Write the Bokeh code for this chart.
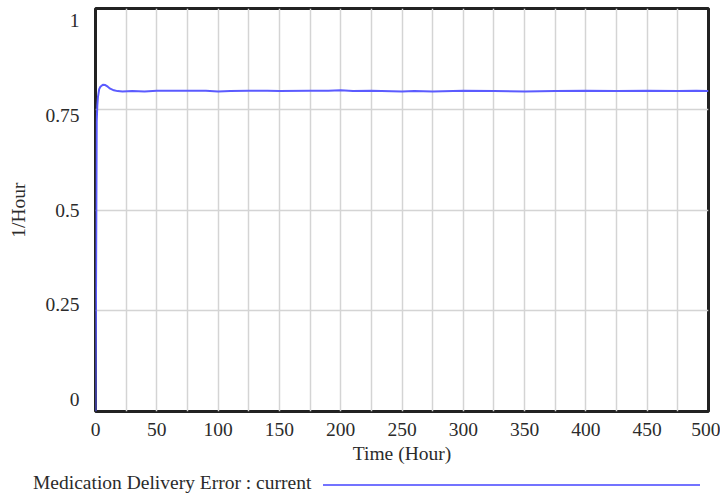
from bokeh.plotting import figure
from bokeh.models import Range1d, FixedTicker, LinearAxis, Div
from bokeh.layouts import column
from bokeh.embed import file_html
from bokeh.resources import INLINE

# ---- data ----
time_hours = [0, 0.5, 1, 1.5, 2, 3, 4, 6, 8, 10, 12, 15, 18, 22, 30, 40, 50, 60,
              75, 90, 100, 110, 125, 140, 150, 175, 190, 200, 210, 225, 250, 260,
              275, 300, 325, 350, 375, 400, 425, 450, 475, 490, 500]
error_current = [0, 0.35, 0.72, 0.76, 0.78, 0.80, 0.806, 0.811, 0.81, 0.806, 0.801,
                 0.797, 0.795, 0.794, 0.795, 0.794, 0.796, 0.796, 0.796, 0.796,
                 0.794, 0.795, 0.796, 0.796, 0.795, 0.796, 0.796, 0.797, 0.795,
                 0.796, 0.794, 0.795, 0.794, 0.796, 0.795, 0.794, 0.795, 0.796,
                 0.795, 0.796, 0.795, 0.796, 0.795]
x_label_ticks = [0, 50, 100, 150, 200, 250, 300, 350, 400, 450, 500]
x_grid_ticks = list(range(0, 525, 25))
y_ticks = [0, 0.25, 0.5, 0.75, 1]
series_name = "Medication Delivery Error : current"

FONT = "Liberation Serif"
FS = "19.5px"
TXT = "#2b2b2b"
LINE = "#5b5bff"

p = figure(width=720, height=468, output_backend="svg", toolbar_location=None,
           x_range=Range1d(0, 500), y_range=Range1d(0, 1),
           min_border_left=95, min_border_right=12, min_border_top=8,
           min_border_bottom=57)
p.background_fill_color = "white"
p.border_fill_color = "white"
p.outline_line_color = "#222222"
p.outline_line_width = 3

r = p.line(time_hours, error_current, line_color=LINE, line_width=2)

# x axis
xa = p.xaxis[0]
xa.ticker = FixedTicker(ticks=x_label_ticks)
xa.axis_line_color = None
xa.major_tick_line_color = None
xa.minor_tick_line_color = None
xa.major_tick_out = 0
xa.major_tick_in = 0
xa.minor_tick_out = 0
xa.major_label_text_font = FONT
xa.major_label_text_font_size = FS
xa.major_label_text_color = TXT
xa.major_label_standoff = 11
xa.axis_label = "Time (Hour)"
xa.axis_label_text_font = FONT
xa.axis_label_text_font_size = FS
xa.axis_label_text_font_style = "normal"
xa.axis_label_text_color = TXT
xa.axis_label_standoff = 4

# y labels: Vensim draws them pulled slightly inward from the frame edges
p.yaxis.visible = False
p.extra_y_ranges = {"labels": Range1d(-0.0317, 1.0317)}
ya = LinearAxis(y_range_name="labels", ticker=FixedTicker(ticks=y_ticks))
ya.axis_line_color = None
ya.major_tick_line_color = None
ya.minor_tick_line_color = None
ya.major_tick_out = 0
ya.major_tick_in = 0
ya.minor_tick_out = 0
ya.major_label_text_font = FONT
ya.major_label_text_font_size = FS
ya.major_label_text_color = TXT
ya.major_label_standoff = 16
ya.axis_label = "1/Hour"
ya.axis_label_text_font = FONT
ya.axis_label_text_font_size = FS
ya.axis_label_text_font_style = "normal"
ya.axis_label_text_color = TXT
ya.axis_label_standoff = 13
p.add_layout(ya, "left")

p.xgrid.ticker = FixedTicker(ticks=x_grid_ticks)
p.ygrid.ticker = FixedTicker(ticks=y_ticks)
for g in (p.xgrid, p.ygrid):
    g.grid_line_color = "#d4d4d4"
    g.grid_line_width = 1.5

# legend strip below the chart: series name, then its line sample
legend_html = (
    '<div style="position:relative;width:720px;height:28px;">'
    '<span style="position:absolute;left:33px;top:4px;white-space:nowrap;'
    f'font-family:\'{FONT}\';font-size:{FS};line-height:22px;color:{TXT};">'
    f'{series_name}</span>'
    '<span style="position:absolute;left:323px;top:16px;width:377px;height:0;'
    'border-top:2px solid #7373ff;"></span>'
    '</div>'
)
leg = Div(text=legend_html, width=720, height=28, margin=0)

open("out.html", "w").write(file_html(column(p, leg, spacing=0), INLINE))
